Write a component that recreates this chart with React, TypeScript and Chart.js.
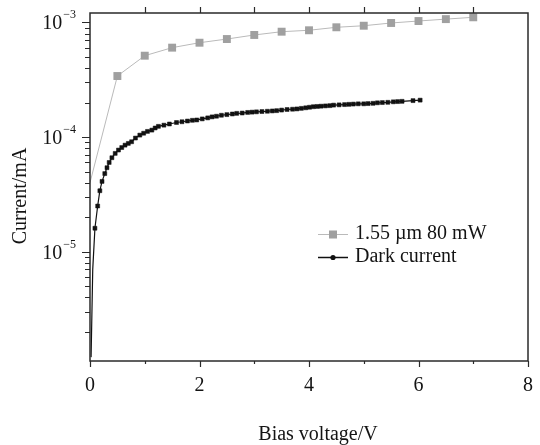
import React, { useEffect, useRef } from 'react';
import { Chart, registerables } from 'chart.js';

Chart.register(...registerables);

// ---- data ----
const laserVoltages = [0, 0.5, 1, 1.5, 2, 2.5, 3, 3.5, 4, 4.5, 5, 5.5, 6, 6.5, 7];
const laserCurrents = [
  4.0e-5, 3.41e-4, 5.13e-4, 6.03e-4, 6.66e-4, 7.17e-4, 7.78e-4, 8.31e-4,
  8.55e-4, 9.08e-4, 9.37e-4, 9.9e-4, 1.03e-3, 1.07e-3, 1.11e-3,
];

const darkVoltages = [
  0.02, 0.05, 0.09, 0.14, 0.18, 0.22, 0.27, 0.31, 0.35, 0.4, 0.46, 0.52, 0.58,
  0.64, 0.7, 0.76, 0.83, 0.91, 0.98, 1.05, 1.13, 1.19, 1.25, 1.35, 1.45, 1.58,
  1.68, 1.78, 1.87, 1.95, 2.05, 2.15, 2.23, 2.31, 2.4, 2.5, 2.6, 2.68, 2.78,
  2.88, 2.96, 3.04, 3.14, 3.24, 3.33, 3.41, 3.5, 3.6, 3.7, 3.78, 3.86, 3.94,
  4.01, 4.08, 4.15, 4.22, 4.3, 4.38, 4.45, 4.55, 4.65, 4.73, 4.81, 4.9, 5.0,
  5.08, 5.17, 5.25, 5.34, 5.44, 5.54, 5.62, 5.7, 5.9, 6.03,
];
const darkCurrents = [
  1.2e-6, 7e-6, 1.6e-5, 2.5e-5, 3.4e-5, 4.1e-5, 4.8e-5, 5.4e-5, 6.0e-5, 6.6e-5,
  7.2e-5, 7.7e-5, 8.1e-5, 8.5e-5, 8.8e-5, 9.1e-5, 9.8e-5, 1.04e-4, 1.08e-4,
  1.12e-4, 1.15e-4, 1.2e-4, 1.24e-4, 1.27e-4, 1.3e-4, 1.34e-4, 1.36e-4,
  1.38e-4, 1.4e-4, 1.41e-4, 1.44e-4, 1.47e-4, 1.5e-4, 1.52e-4, 1.55e-4,
  1.57e-4, 1.59e-4, 1.61e-4, 1.62e-4, 1.64e-4, 1.65e-4, 1.66e-4, 1.67e-4,
  1.68e-4, 1.69e-4, 1.7e-4, 1.72e-4, 1.74e-4, 1.75e-4, 1.76e-4, 1.78e-4,
  1.8e-4, 1.82e-4, 1.84e-4, 1.85e-4, 1.86e-4, 1.87e-4, 1.88e-4, 1.9e-4,
  1.91e-4, 1.92e-4, 1.93e-4, 1.94e-4, 1.95e-4, 1.95e-4, 1.96e-4, 1.97e-4,
  1.99e-4, 2.0e-4, 2.01e-4, 2.03e-4, 2.04e-4, 2.05e-4, 2.08e-4, 2.1e-4,
];

const seriesNames = ['1.55 µm 80 mW', 'Dark current'];
const xTickValues = [0, 2, 4, 6, 8];
const xTickLabels = ['0', '2', '4', '6', '8'];
const xMinorTickValues = [1, 3, 5, 7];
const yDecadeExponents = [-5, -4, -3];
const xTitle = 'Bias voltage/V';
const yTitle = 'Current/mA';

const X_MIN = 0;
const X_MAX = 8;
const Y_MIN = 1.11e-6;
const Y_MAX = 1.21e-3;

const FONT = '"Liberation Serif", "Times New Roman", serif';
const TEXT = '#141414';
const GRAY_MARK = '#a0a0a0';
const GRAY_LINE = '#bababa';
const DARK = '#111111';

const decorPlugin = {
  id: 'decor',
  afterDraw(chart: any) {
    const { ctx, chartArea: a, scales } = chart;
    const x = scales.x;
    const y = scales.y;
    ctx.save();
    ctx.strokeStyle = '#2a2a2a';
    ctx.lineWidth = 1.5;
    ctx.strokeRect(a.left, a.top, a.right - a.left, a.bottom - a.top);

    ctx.lineWidth = 1.2;
    ctx.beginPath();
    // left log ticks
    for (let e = -7; e <= -2; e++) {
      for (let m = 1; m <= 9; m++) {
        const v = m * Math.pow(10, e);
        if (v < Y_MIN || v > Y_MAX) continue;
        const py = Math.round(y.getPixelForValue(v)) + 0.5;
        const len = m === 1 ? 8 : 5;
        ctx.moveTo(a.left - len, py);
        ctx.lineTo(a.left, py);
      }
    }
    // top ticks
    for (let v = 1; v <= 7; v++) {
      const px = Math.round(x.getPixelForValue(v)) + 0.5;
      ctx.moveTo(px, a.top);
      ctx.lineTo(px, a.top - 6);
    }
    // bottom ticks
    xTickValues.forEach((v) => {
      const px = Math.round(x.getPixelForValue(v)) + 0.5;
      ctx.moveTo(px, a.bottom);
      ctx.lineTo(px, a.bottom + 6);
    });
    xMinorTickValues.forEach((v) => {
      const px = Math.round(x.getPixelForValue(v)) + 0.5;
      ctx.moveTo(px, a.bottom);
      ctx.lineTo(px, a.bottom + 3);
    });
    ctx.stroke();

    ctx.fillStyle = TEXT;
    // x tick labels
    ctx.font = `20px ${FONT}`;
    ctx.textAlign = 'center';
    ctx.textBaseline = 'middle';
    xTickValues.forEach((v, i) => {
      ctx.fillText(xTickLabels[i], x.getPixelForValue(v), a.bottom + 25);
    });

    // y tick labels 10^e
    yDecadeExponents.forEach((e) => {
      const py = y.getPixelForValue(Math.pow(10, e));
      const sup = '\u2212' + String(-e);
      ctx.font = `12px ${FONT}`;
      const wSup = ctx.measureText(sup).width;
      ctx.font = `20px ${FONT}`;
      const wBase = ctx.measureText('10').width;
      const right = a.left - 14;
      ctx.textAlign = 'left';
      ctx.textBaseline = 'alphabetic';
      ctx.fillText('10', right - wSup - 1 - wBase, py + 7);
      ctx.font = `12px ${FONT}`;
      ctx.fillText(sup, right - wSup, py - 4);
    });

    // axis titles
    ctx.font = `20px ${FONT}`;
    ctx.textAlign = 'center';
    ctx.textBaseline = 'middle';
    ctx.fillText(xTitle, (a.left + a.right) / 2 + 9, a.bottom + 74);
    ctx.save();
    ctx.translate(21, 196);
    ctx.rotate(-Math.PI / 2);
    ctx.fillText(yTitle, 0, 0);
    ctx.restore();

    // legend
    const lx0 = 318;
    const lx1 = 348;
    const rows = [234, 257];
    ctx.lineWidth = 1;
    // row 1
    ctx.strokeStyle = GRAY_LINE;
    ctx.beginPath();
    ctx.moveTo(lx0, rows[0] + 0.5);
    ctx.lineTo(lx1, rows[0] + 0.5);
    ctx.stroke();
    ctx.fillStyle = GRAY_MARK;
    ctx.fillRect((lx0 + lx1) / 2 - 4, rows[0] - 3.5, 8, 8);
    // row 2
    ctx.strokeStyle = DARK;
    ctx.lineWidth = 1.5;
    ctx.beginPath();
    ctx.moveTo(lx0, rows[1] + 0.5);
    ctx.lineTo(lx1, rows[1] + 0.5);
    ctx.stroke();
    ctx.fillStyle = DARK;
    ctx.beginPath();
    ctx.arc((lx0 + lx1) / 2, rows[1] + 0.5, 2.6, 0, Math.PI * 2);
    ctx.fill();
    ctx.fillStyle = TEXT;
    ctx.font = `20px ${FONT}`;
    ctx.textAlign = 'left';
    ctx.textBaseline = 'middle';
    ctx.fillText(seriesNames[0], 355, rows[0]);
    ctx.fillText(seriesNames[1], 355, rows[1]);
    ctx.restore();
  },
};

export default function App() {
  const canvasRef = useRef<HTMLCanvasElement | null>(null);

  useEffect(() => {
    document.body.style.margin = '0';
    const canvas = canvasRef.current;
    if (!canvas) return;
    const chart = new Chart(canvas, {
      type: 'line',
      data: {
        datasets: [
          {
            label: seriesNames[0],
            data: laserVoltages.map((v, i) => ({ x: v, y: laserCurrents[i] })),
            borderColor: GRAY_LINE,
            borderWidth: 1,
            pointStyle: 'rect',
            pointRadius: (c: any) => (c.dataIndex === 0 ? 0 : 5.6),
            pointBackgroundColor: GRAY_MARK,
            pointBorderColor: GRAY_MARK,
            pointBorderWidth: 0,
            tension: 0,
          },
          {
            label: seriesNames[1],
            data: darkVoltages.map((v, i) => ({ x: v, y: darkCurrents[i] })),
            borderColor: DARK,
            borderWidth: 1.2,
            pointStyle: 'rect',
            pointRadius: (c: any) => (c.dataIndex < 2 ? 0 : 2.8),
            pointBackgroundColor: DARK,
            pointBorderColor: DARK,
            pointBorderWidth: 0.5,
            tension: 0,
          },
        ],
      },
      options: {
        responsive: false,
        animation: false,
        layout: { padding: { left: 90, top: 13, right: 12, bottom: 84 } },
        scales: {
          x: { type: 'linear', min: X_MIN, max: X_MAX, display: false },
          y: { type: 'logarithmic', min: Y_MIN, max: Y_MAX, display: false },
        },
        plugins: {
          legend: { display: false },
          tooltip: { enabled: false },
        },
      },
      plugins: [decorPlugin],
    });
    return () => chart.destroy();
  }, []);

  return (
    <canvas
      ref={canvasRef}
      width={540}
      height={445}
      style={{ display: 'block', width: 540, height: 445 }}
    />
  );
}
